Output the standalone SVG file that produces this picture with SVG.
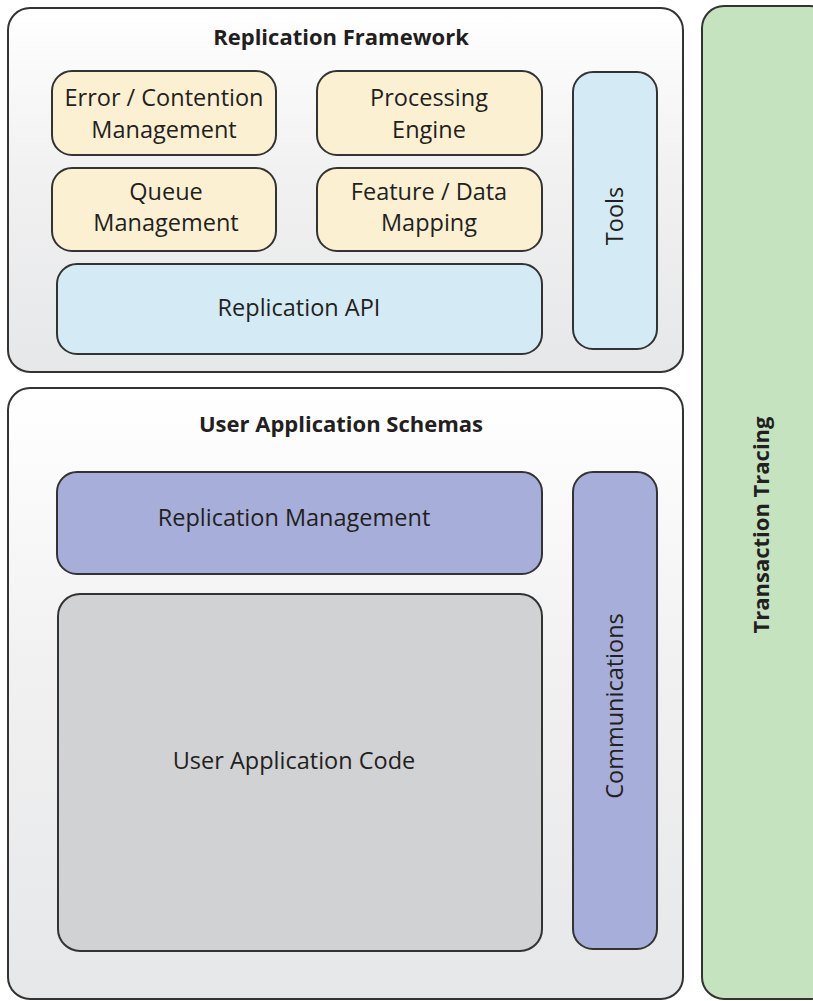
<svg xmlns="http://www.w3.org/2000/svg" width="813" height="1001" viewBox="0 0 813 1001">
<defs>
<linearGradient id="fr" x1="0" y1="0" x2="0" y2="1">
<stop offset="0" stop-color="#ffffff"/>
<stop offset="0.45" stop-color="#f1f1f2"/>
<stop offset="1" stop-color="#e6e7e8"/>
</linearGradient>
<style>
.box{stroke:#333333;stroke-width:2}
.frame{fill:url(#fr)}
.beige{fill:#fcf0d3}
.blue{fill:#d4ebf6}
.purple{fill:#a6aed9}
.gray{fill:#d1d2d4}
.green{fill:#c6e3c0}
text{font-family:"Open Sans","Liberation Sans",sans-serif;fill:#231f20;text-anchor:middle}
.t{font-size:23.5px}
.h{font-size:22px;font-weight:bold}
</style>
</defs>
<rect width="813" height="1001" fill="#ffffff"/>
<g id="transaction-tracing">
<rect class="box green" x="702" y="6" width="130" height="993" rx="22"/>
<text class="h" transform="translate(769,525) rotate(-90)">Transaction Tracing</text>
</g>
<g id="replication-framework">
<rect class="box frame" x="8" y="8" width="675" height="364" rx="22"/>
<text class="h" x="341" y="45">Replication Framework</text>
</g>
<g id="error-contention">
<rect class="box beige" x="52" y="71" width="224" height="84" rx="20"/>
<text class="t" x="164" y="106">Error / Contention</text>
<text class="t" x="164" y="138">Management</text>
</g>
<g id="processing-engine">
<rect class="box beige" x="317" y="71" width="225" height="84" rx="20"/>
<text class="t" x="429" y="106">Processing</text>
<text class="t" x="429" y="138">Engine</text>
</g>
<g id="queue-management">
<rect class="box beige" x="52" y="168" width="224" height="83" rx="20"/>
<text class="t" x="166" y="200">Queue</text>
<text class="t" x="166" y="231">Management</text>
</g>
<g id="feature-data-mapping">
<rect class="box beige" x="317" y="168" width="225" height="83" rx="20"/>
<text class="t" x="429" y="200">Feature / Data</text>
<text class="t" x="429" y="231">Mapping</text>
</g>
<g id="tools">
<rect class="box blue" x="573" y="72" width="84" height="277" rx="20"/>
<text class="t" transform="translate(623,216) rotate(-90)">Tools</text>
</g>
<g id="replication-api">
<rect class="box blue" x="57" y="264" width="485" height="90" rx="20"/>
<text class="t" x="299" y="316">Replication API</text>
</g>
<g id="user-application-schemas">
<rect class="box frame" x="8" y="388" width="675" height="611" rx="22"/>
<text class="h" x="341" y="432">User Application Schemas</text>
</g>
<g id="replication-management">
<rect class="box purple" x="57" y="472" width="485" height="102" rx="20"/>
<text class="t" x="294" y="526">Replication Management</text>
</g>
<g id="communications">
<rect class="box purple" x="573" y="472" width="84" height="477" rx="20"/>
<text class="t" transform="translate(623,706) rotate(-90)">Communications</text>
</g>
<g id="user-application-code">
<rect class="box gray" x="58" y="594" width="484" height="357" rx="22"/>
<text class="t" x="294" y="769">User Application Code</text>
</g>
<g id="connectors"></g>
</svg>
